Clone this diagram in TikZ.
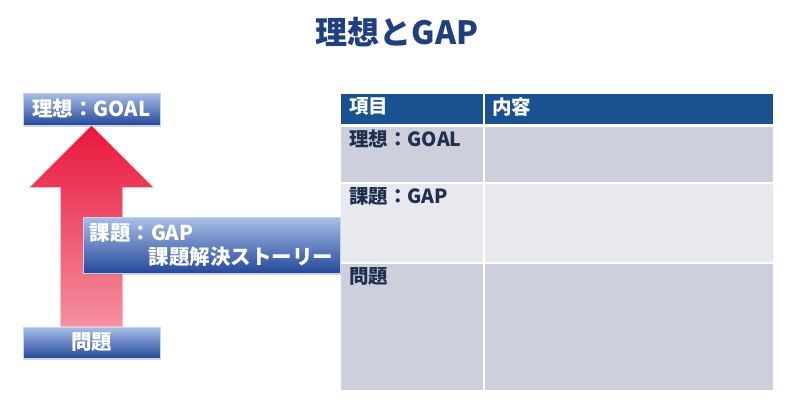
\documentclass[tikz,border=0pt]{standalone}
\usepackage{fontspec}
\setmainfont{Noto Sans CJK JP}
\usetikzlibrary{calc, positioning, shadows}

\definecolor{titleblue}{HTML}{1F3F80}
\definecolor{boxtop}{HTML}{A9BFE8}
\definecolor{boxbottom}{HTML}{25489A}
\definecolor{boxedge}{HTML}{C8D4EC}
\definecolor{arrowtop}{HTML}{E8163C}
\definecolor{arrowbottom}{HTML}{F690A0}
\definecolor{headblue}{HTML}{1A5291}
\definecolor{rowdark}{HTML}{CDD0DC}
\definecolor{rowlight}{HTML}{E7E9EE}
\definecolor{celltext}{HTML}{1F2F50}

\tikzset{
  bluebox/.style={draw=boxedge, line width=0.6pt, top color=boxtop, bottom color=boxbottom,
    text=white, font=\bfseries\fontsize{20.5}{24}\selectfont, inner sep=0pt,
    drop shadow={opacity=0.35, shadow xshift=1pt, shadow yshift=-1.5pt}},
  cellname/.style={anchor=north west, inner sep=0pt, text=celltext, font=\bfseries\fontsize{19.5}{22}\selectfont},
}

\begin{document}
\begin{tikzpicture}[x=1pt, y=-1pt]
  \useasboundingbox (0,0) rectangle (800,408);
  \node[text=titleblue, font=\bfseries\fontsize{32}{36}\selectfont] (title) at (397,32) {理想とGAP};

  % left side
  \node[bluebox, minimum width=137pt, minimum height=32pt] (goal) at (91.5,109) {理想：GOAL};
  \node[bluebox, minimum width=137pt, minimum height=31pt] (mondai) at (91.5,342.5) {問題};
  \path[top color=arrowtop, bottom color=arrowbottom, draw=arrowbottom!60!white, line width=0.5pt]
    (goal.south) -- ($(goal.south)+(62,62)$) -- ($(goal.south)+(31,62)$)
    -- ($(mondai.north)+(31,0)$) -- ($(mondai.north)+(-31,0)$)
    -- ($(goal.south)+(-31,62)$) -- ($(goal.south)+(-62,62)$) -- cycle;
  \node[bluebox, minimum width=257pt, minimum height=56pt, align=left] (gap) at (211.5,245)
    {課題：GAP\\\hspace{2.9em}課題解決ストーリー};

  % table
  \foreach \ytop/\ybot/\col in {94/124/headblue, 127/182/rowdark, 184/262/rowlight, 264/390/rowdark} {
    \fill[\col] (341,\ytop) rectangle (483,\ybot);
    \fill[\col] (485,\ytop) rectangle (773,\ybot);
  }
  \node[cellname, text=white] (item) at (349,97.5) {項目};
  \node[cellname, text=white] (content) at (492,97.5) {内容};
  \node[cellname] (rgoal) at (349,130) {理想：GOAL};
  \node[cellname] (rgap) at (349,187) {課題：GAP};
  \node[cellname] (rmondai) at (349,267) {問題};
\end{tikzpicture}
\end{document}
